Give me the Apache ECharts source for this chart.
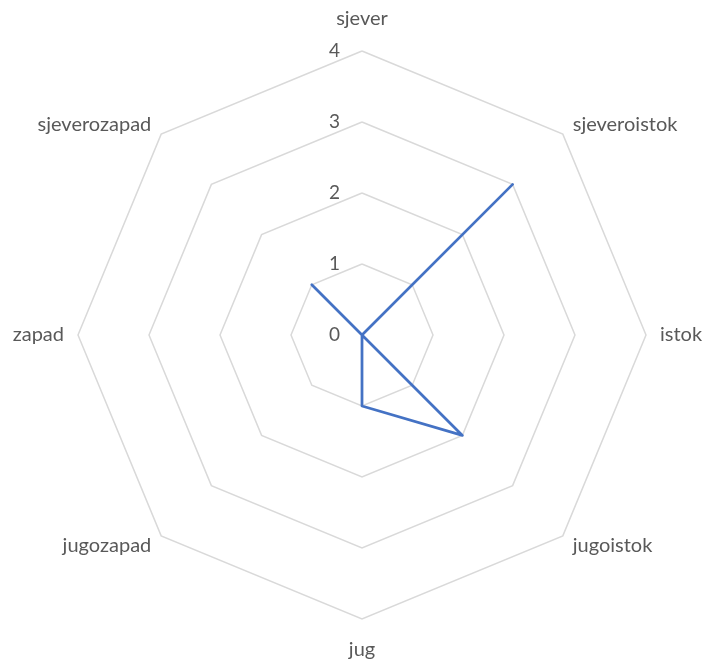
<!DOCTYPE html>
<html>
<head>
<meta charset="utf-8">
<script src="https://cdn.jsdelivr.net/npm/echarts@6/dist/echarts.min.js"></script>
<style>
  html, body { margin: 0; padding: 0; background: #fff; }
  #chart { width: 708px; height: 659px; }
</style>
</head>
<body>
<div id="chart"></div>
<script>
  // smjerovi (kategorije) i vrijednosti, u smjeru kazaljke na satu od sjevera
  var directions = ['sjever', 'sjeveroistok', 'istok', 'jugoistok', 'jug', 'jugozapad', 'zapad', 'sjeverozapad'];
  var values = [0, 3, 0, 2, 1, 0, 0, 1];
  var axisMax = 4;

  // echarts radar ide suprotno od kazaljke, pa okrecemo redoslijed (sjever ostaje prvi)
  var order = [0, 7, 6, 5, 4, 3, 2, 1];

  var chart = echarts.init(document.getElementById('chart'));

  var indicators = order.map(function (k, i) {
    var ind = { name: directions[k], min: 0, max: axisMax };
    if (i === 0) {
      ind.axisLabel = { show: true };
      ind.nameGap = 22;
    }
    if (directions[k] === 'jug') {
      ind.nameGap = 21;
    }
    return ind;
  });
  var orderedValues = order.map(function (k) { return values[k]; });

  chart.setOption({
    animation: false,
    radar: {
      center: [362, 335],
      radius: 284,
      startAngle: 90,
      shape: 'polygon',
      splitNumber: 4,
      indicator: indicators,
      axisName: {
        color: '#595959',
        fontSize: 20,
        fontFamily: 'Lato'
      },
      nameGap: 14,
      axisLine: { show: false },
      axisTick: { show: false },
      axisLabel: {
        show: false,
        color: '#595959',
        fontSize: 19,
        fontFamily: 'Lato',
        margin: 22
      },
      splitLine: { lineStyle: { color: '#d9d9d9', width: 1.5 } },
      splitArea: { show: false }
    },
    series: [{
      type: 'radar',
      symbol: 'none',
      lineStyle: { color: '#4472c4', width: 2.75 },
      data: [{ value: orderedValues }]
    }]
  });
</script>
</body>
</html>
